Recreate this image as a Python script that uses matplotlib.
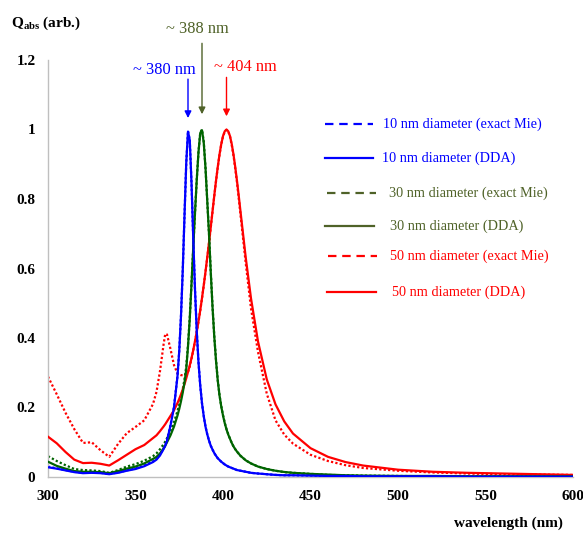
import matplotlib
matplotlib.use("Agg")
import matplotlib.pyplot as plt

plt.rcParams['font.family'] = 'Liberation Serif'
plt.rcParams['mathtext.fontset'] = 'custom'
plt.rcParams['mathtext.rm'] = 'Liberation Serif'
plt.rcParams['mathtext.bf'] = 'Liberation Serif:bold'

# wavelength grid (nm), 1 nm steps across the plasmon peaks
wavelength = [300, 305, 310, 315, 320, 325, 330, 335, 340, 345, 350, 355, 360,
              362, 364, 366, 367, 368, 370, 372, 374,
              375, 376, 377, 378, 379, 380, 381, 382, 383, 384, 385, 386, 387, 388,
              389, 390, 391, 392, 393, 394, 395, 396, 397, 398, 399, 400, 401, 402,
              403, 404, 405, 406, 407, 408, 409, 410,
              413, 416, 420, 425, 430, 435, 440,
              450, 460, 470, 480,
              500, 520, 540, 560, 580, 600]

# normalised absorption efficiency, 10 nm particle
q10_mie = [0.030, 0.025, 0.020, 0.015, 0.012, 0.013, 0.012, 0.009, 0.013, 0.019, 0.025, 0.033, 0.045,
           0.052, 0.064, 0.082, 0.092, 0.106, 0.150, 0.202, 0.292,
           0.363, 0.464, 0.595, 0.752, 0.904, 0.996, 0.970, 0.847, 0.687, 0.539, 0.420, 0.330, 0.263, 0.212,
           0.175, 0.145, 0.123, 0.105, 0.090, 0.079, 0.069, 0.061, 0.054, 0.049, 0.044, 0.040, 0.036, 0.033,
           0.030, 0.028, 0.026, 0.024, 0.022, 0.020, 0.019, 0.018,
           0.015, 0.012, 0.010, 0.008, 0.006, 0.005, 0.005,
           0.004, 0.003, 0.003, 0.002,
           0.002, 0.002, 0.001, 0.001, 0.001, 0.001]
q10_dda = [0.028, 0.024, 0.019, 0.014, 0.011, 0.012, 0.011, 0.008, 0.012, 0.018, 0.023, 0.031, 0.043,
           0.050, 0.062, 0.080, 0.090, 0.104, 0.148, 0.200, 0.290,
           0.363, 0.464, 0.595, 0.752, 0.904, 0.994, 0.970, 0.847, 0.687, 0.539, 0.420, 0.330, 0.263, 0.212,
           0.175, 0.145, 0.123, 0.105, 0.090, 0.079, 0.069, 0.061, 0.054, 0.049, 0.044, 0.040, 0.036, 0.033,
           0.030, 0.028, 0.026, 0.024, 0.022, 0.020, 0.019, 0.018,
           0.015, 0.012, 0.010, 0.008, 0.006, 0.005, 0.005,
           0.004, 0.003, 0.003, 0.002,
           0.002, 0.002, 0.001, 0.001, 0.001, 0.001]

# 30 nm particle
q30_mie = [0.060, 0.046, 0.034, 0.023, 0.020, 0.019, 0.017, 0.012, 0.020, 0.030, 0.037, 0.047, 0.060,
           0.068, 0.080, 0.094, 0.102, 0.112, 0.133, 0.158, 0.190,
           0.208, 0.229, 0.253, 0.281, 0.318, 0.380, 0.458, 0.556, 0.660, 0.760, 0.856, 0.936, 0.991, 1.000,
           0.965, 0.890, 0.795, 0.700, 0.592, 0.492, 0.407, 0.337, 0.279, 0.236, 0.204, 0.178, 0.156, 0.138,
           0.123, 0.110, 0.098, 0.088, 0.080, 0.073, 0.067, 0.061,
           0.048, 0.039, 0.030, 0.023, 0.018, 0.014, 0.012,
           0.009, 0.006, 0.005, 0.004,
           0.003, 0.002, 0.002, 0.002, 0.001, 0.001]
q30_dda = [0.044, 0.032, 0.024, 0.017, 0.015, 0.015, 0.014, 0.011, 0.017, 0.024, 0.030, 0.039, 0.052,
           0.058, 0.068, 0.082, 0.090, 0.100, 0.120, 0.145, 0.177,
           0.196, 0.218, 0.243, 0.272, 0.310, 0.375, 0.455, 0.555, 0.660, 0.760, 0.855, 0.935, 0.990, 0.998,
           0.962, 0.889, 0.795, 0.700, 0.590, 0.490, 0.405, 0.335, 0.278, 0.235, 0.203, 0.177, 0.155, 0.137,
           0.122, 0.110, 0.098, 0.088, 0.080, 0.073, 0.067, 0.061,
           0.048, 0.039, 0.030, 0.023, 0.018, 0.0145, 0.012,
           0.009, 0.007, 0.005, 0.004,
           0.003, 0.003, 0.002, 0.002, 0.002, 0.002]

# 50 nm particle
q50_mie = [0.289, 0.238, 0.185, 0.138, 0.098, 0.100, 0.077, 0.058, 0.095, 0.126, 0.144, 0.163, 0.210,
           0.245, 0.305, 0.380, 0.412, 0.410, 0.368, 0.322, 0.298,
           0.295, 0.293, 0.293, 0.294, 0.296, 0.302, 0.318, 0.340, 0.364, 0.390, 0.417, 0.447, 0.479, 0.514,
           0.551, 0.590, 0.631, 0.673, 0.718, 0.763, 0.808, 0.851, 0.891, 0.927, 0.957, 0.980, 0.994, 0.999,
           0.994, 0.980, 0.955, 0.925, 0.887, 0.848, 0.802, 0.755,
           0.615, 0.485, 0.360, 0.240, 0.163, 0.122, 0.096,
           0.064, 0.046, 0.034, 0.026,
           0.018, 0.013, 0.010, 0.008, 0.007, 0.006]
q50_dda = [0.116, 0.097, 0.072, 0.050, 0.040, 0.041, 0.038, 0.033, 0.048, 0.064, 0.080, 0.092, 0.112,
           0.120, 0.132, 0.145, 0.152, 0.160, 0.176, 0.192, 0.213,
           0.225, 0.238, 0.252, 0.267, 0.284, 0.302, 0.321, 0.342, 0.365, 0.391, 0.418, 0.448, 0.480, 0.515,
           0.552, 0.591, 0.632, 0.674, 0.719, 0.764, 0.809, 0.852, 0.892, 0.928, 0.958, 0.981, 0.995, 1.000,
           0.995, 0.981, 0.958, 0.928, 0.892, 0.852, 0.809, 0.764,
           0.631, 0.514, 0.390, 0.281, 0.209, 0.160, 0.125,
           0.083, 0.058, 0.043, 0.033,
           0.021, 0.015, 0.012, 0.010, 0.008, 0.006]

# resonance peaks marked with arrows
peak_labels = ['~ 380 nm', '~ 388 nm', '~ 404 nm']
peak_wl = [380, 388, 402]

legend_labels = ['10 nm diameter (exact Mie)', '10 nm diameter (DDA)',
                 '30 nm diameter (exact Mie)', '30 nm diameter (DDA)',
                 '50 nm diameter (exact Mie)', '50 nm diameter (DDA)']

BLUE = '#0000FF'
GREEN = '#006400'
OLIVE = '#4F6228'
RED = '#FF0000'

W, H = 583, 537
fig = plt.figure(figsize=(W / 100, H / 100), dpi=100)
ax = fig.add_axes([48 / W, 60 / H, 525 / W, 417 / H])

dot = (0, (1, 1))
ax.plot(wavelength, q50_mie, color=RED, lw=1.6, ls=dot, zorder=2)
ax.plot(wavelength, q30_mie, color=GREEN, lw=1.6, ls=dot, zorder=2)
ax.plot(wavelength, q10_mie, color=BLUE, lw=1.6, ls=dot, zorder=2)
ax.plot(wavelength, q50_dda, color=RED, lw=1.6, zorder=3)
ax.plot(wavelength, q30_dda, color=GREEN, lw=1.6, zorder=3)
ax.plot(wavelength, q10_dda, color=BLUE, lw=1.6, zorder=4)

ax.set_xlim(300, 600)
ax.set_ylim(0, 1.2)
ax.set_xticks(range(300, 601, 50))
ax.set_yticks([0, 0.2, 0.4, 0.6, 0.8, 1.0, 1.2])
ax.set_yticklabels(['0', '0.2', '0.4', '0.6', '0.8', '1', '1.2'])
ax.tick_params(length=0, labelsize=11)
ax.tick_params(axis='y', pad=9)
ax.tick_params(axis='x', pad=9)
for lbl in ax.get_xticklabels() + ax.get_yticklabels():
    lbl.set_fontweight('bold')
for side in ['top', 'right']:
    ax.spines[side].set_visible(False)
for side in ['left', 'bottom']:
    ax.spines[side].set_color('#BFBFBF')
    ax.spines[side].set_linewidth(1.0)

fig.text(11 / W, 1 - 23 / H, r'$\mathbf{Q}_{\mathbf{abs}}$ (arb.)', fontsize=11,
         fontweight='bold', ha='left', va='center')
fig.text(508 / W, 1 - 523 / H, 'wavelength (nm)', fontsize=11, fontweight='bold',
         ha='center', va='center')

# peak arrows
arrow_cols = [BLUE, OLIVE, RED]
tails = [1.145, 1.248, 1.150]
tips = [1.033, 1.044, 1.038]
text_pos = [(366.3, 1.171), (385.4, 1.288), (412.6, 1.181)]
for lab, x, t0, t1, (tx, ty), c in zip(peak_labels, peak_wl, tails, tips, text_pos, arrow_cols):
    ax.annotate('', xy=(x, t1), xytext=(x, t0),
                arrowprops=dict(arrowstyle='-|>', color=c, lw=1.0, mutation_scale=10,
                                shrinkA=0, shrinkB=0),
                annotation_clip=False)
    ax.text(tx, ty, lab, color=c, fontsize=11.8, ha='center', va='center', clip_on=False)

# hand-placed legend (line sample + coloured text)
leg_cols = [BLUE, BLUE, OLIVE, OLIVE, RED, RED]
leg_styles = [(0, (3.8, 2.6)), '-', (0, (3.8, 2.6)), '-', (0, (3.8, 2.6)), '-']
leg_rows = [124, 158, 193, 226, 256, 292]
leg_x0 = [325, 325, 327, 325, 328, 327]
leg_x1 = [373, 373, 376, 374, 377, 376]
leg_tx = [383, 382, 389, 390, 390, 392]
for lab, c, s, y, x0, x1, tx in zip(legend_labels, leg_cols, leg_styles, leg_rows,
                                    leg_x0, leg_x1, leg_tx):
    fig.add_artist(plt.Line2D([x0 / W, x1 / W], [1 - y / H, 1 - y / H], color=c,
                              lw=1.6, ls=s, transform=fig.transFigure))
    fig.text(tx / W, 1 - y / H, lab, color=c, fontsize=10.3, ha='left', va='center')

fig.savefig('out.png', dpi=100)
